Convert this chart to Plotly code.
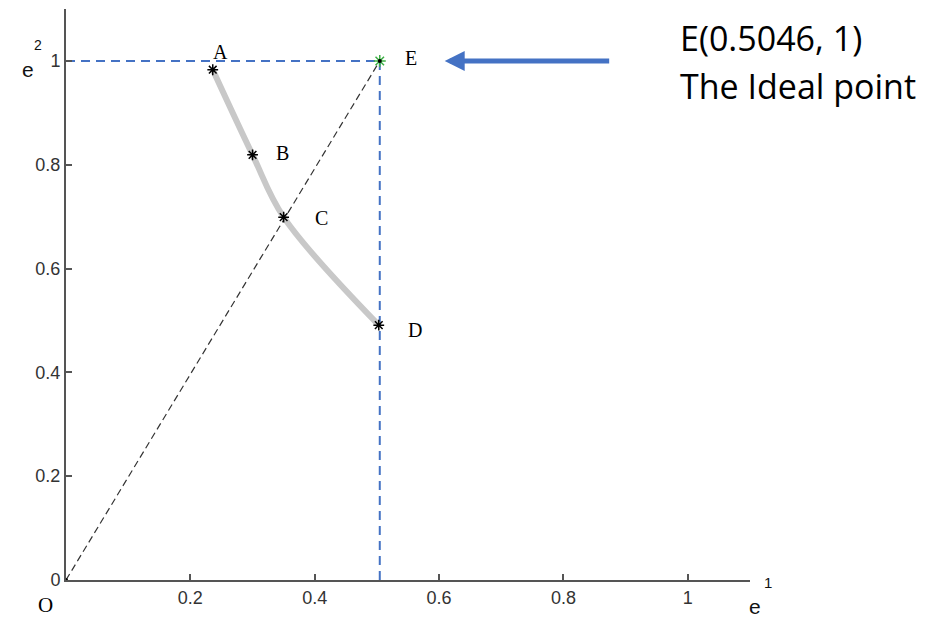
import plotly.graph_objects as go

# Data
point_names = ["A", "B", "C", "D"]
e1_values = [0.236, 0.300, 0.350, 0.503]
e2_values = [0.983, 0.819, 0.699, 0.491]
ideal_name = "E"
ideal_e1 = 0.5046
ideal_e2 = 1.0
x_ticks = [0.2, 0.4, 0.6, 0.8, 1.0]
x_tick_labels = ["0.2", "0.4", "0.6", "0.8", "1"]
y_ticks = [0, 0.2, 0.4, 0.6, 0.8, 1.0]
y_tick_labels = ["0", "0.2", "0.4", "0.6", "0.8", "1"]
note_lines = ["E(0.5046, 1)", "The Ideal point"]

BLUE = "#4472C4"
serif = "Liberation Serif"
sans = "Liberation Sans"

# plot area geometry (pixels) used to place paper-referenced notes
L, R, T, B = 66, 182, 9, 39
W, H = 932, 619
PW, PH = W - L - R, H - T - B


def px(xp):
    return (xp - L) / PW


def py(yp):
    return (H - B - yp) / PH


fig = go.Figure()

# diagonal O -> E
fig.add_trace(go.Scatter(x=[0, ideal_e1], y=[0, ideal_e2], mode="lines",
                         line=dict(color="#333", width=1.2, dash="7px,4px"), hoverinfo="skip"))
# blue dashed guides
fig.add_trace(go.Scatter(x=[0, ideal_e1], y=[ideal_e2, ideal_e2], mode="lines",
                         line=dict(color=BLUE, width=2, dash="9px,6px"), hoverinfo="skip"))
fig.add_trace(go.Scatter(x=[ideal_e1, ideal_e1], y=[0, ideal_e2], mode="lines",
                         line=dict(color=BLUE, width=2, dash="9px,6px"), hoverinfo="skip"))
# pareto curve
fig.add_trace(go.Scatter(x=e1_values, y=e2_values, mode="lines",
                         line=dict(color="#c8c8c8", width=6, shape="spline", smoothing=1.0),
                         hoverinfo="skip"))
# markers
fig.add_trace(go.Scatter(x=e1_values, y=e2_values, mode="markers",
                         marker=dict(symbol="asterisk-open", size=9, color="black",
                                     line=dict(color="black", width=1.5))))
fig.add_trace(go.Scatter(x=[ideal_e1], y=[ideal_e2], mode="markers",
                         marker=dict(symbol="asterisk-open", size=10, color="#3cb043",
                                     line=dict(color="#3cb043", width=1.5))))
fig.add_trace(go.Scatter(x=[ideal_e1], y=[ideal_e2], mode="markers",
                         marker=dict(symbol="circle", size=4, color="black")))
# origin point
fig.add_trace(go.Scatter(x=[0], y=[0], mode="markers",
                         marker=dict(symbol="circle", size=4, color="black")))

annotations = []
label_offsets = {"A": (8, -18), "B": (30, -2), "C": (38, 1), "D": (36, 5)}
for n, xv, yv in zip(point_names, e1_values, e2_values):
    dx, dy = label_offsets[n]
    annotations.append(dict(x=xv, y=yv, xref="x", yref="y", text=n, showarrow=False,
                            xanchor="center", yanchor="middle",
                            xshift=dx, yshift=-dy, font=dict(family=serif, size=20, color="black")))
annotations.append(dict(x=ideal_e1, y=ideal_e2, xref="x", yref="y", text=ideal_name,
                        showarrow=False, xshift=31, yshift=3, xanchor="center", yanchor="middle",
                        font=dict(family=serif, size=20, color="black")))
annotations.append(dict(x=0, y=0, xref="x", yref="y", text="O", showarrow=False,
                        xanchor="center", yanchor="middle",
                        xshift=-21, yshift=-25, font=dict(family=serif, size=21, color="black")))
# axis labels e^1, e^2 (base letter and raised index drawn separately)
for txt, xp, yp, sz in [("e", 755, 606, 21), ("1", 768, 582, 15),
                        ("e", 28, 70, 21), ("2", 38, 45, 14)]:
    annotations.append(dict(x=px(xp), y=py(yp), xref="paper", yref="paper", text=txt,
                            showarrow=False, xanchor="center", yanchor="middle",
                            font=dict(family=sans, size=sz, color="#111")))
# arrow
annotations.append(dict(x=0.609, y=ideal_e2, xref="x", yref="y", ax=166, ay=0, text="",
                        showarrow=True, arrowhead=2, arrowsize=0.8, arrowwidth=5,
                        arrowcolor=BLUE))
annotations.append(dict(x=px(678), y=py(38), xref="paper", yref="paper",
                        text=note_lines[0], showarrow=False, xanchor="left", yanchor="middle",
                        font=dict(family="Open Sans", size=34, color="black")))
annotations.append(dict(x=px(678), y=py(86), xref="paper", yref="paper",
                        text=note_lines[1], showarrow=False, xanchor="left", yanchor="middle",
                        font=dict(family="Open Sans", size=34, color="black")))

fig.update_layout(
    width=W, height=H,
    margin=dict(l=L, r=R, t=T, b=B),
    paper_bgcolor="white", plot_bgcolor="white",
    showlegend=False,
    annotations=annotations,
    xaxis=dict(range=[0, 1.1], tickvals=x_ticks, ticktext=x_tick_labels,
               showgrid=False, zeroline=False, showline=True, linecolor="#555", linewidth=2,
               ticks="inside", ticklen=6, tickcolor="#555", tickwidth=1.5,
               tickfont=dict(family=sans, size=18, color="#333")),
    yaxis=dict(range=[0, 1.1], tickvals=y_ticks, ticktext=y_tick_labels,
               showgrid=False, zeroline=False, showline=True, linecolor="#555", linewidth=2,
               ticks="inside", ticklen=6, tickcolor="#555", tickwidth=1.5,
               tickfont=dict(family=sans, size=18, color="#333")),
)

fig.write_html("out.html")
